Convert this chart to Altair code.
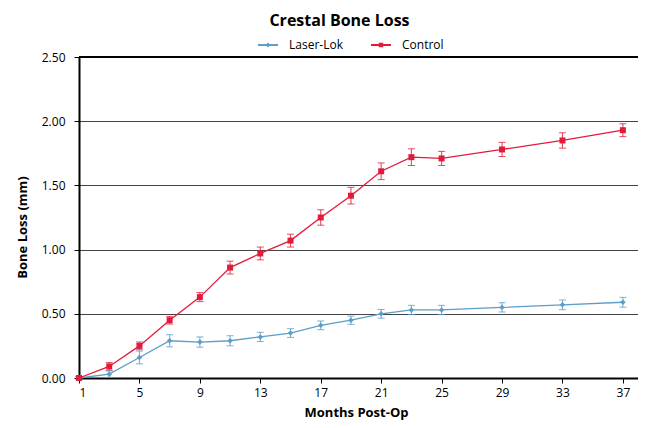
import altair as alt
import pandas as pd

months = [1, 3, 5, 7, 9, 11, 13, 15, 17, 19, 21, 23, 25, 29, 33, 37]
control = [0.00, 0.09, 0.25, 0.45, 0.63, 0.86, 0.97, 1.07, 1.25, 1.42, 1.61, 1.72, 1.71, 1.78, 1.85, 1.93]
control_err = [0.01, 0.03, 0.03, 0.03, 0.035, 0.05, 0.05, 0.05, 0.06, 0.065, 0.065, 0.065, 0.055, 0.055, 0.06, 0.05]
laser = [0.00, 0.03, 0.16, 0.29, 0.28, 0.29, 0.32, 0.35, 0.41, 0.45, 0.50, 0.53, 0.53, 0.55, 0.57, 0.59]
laser_err = [0.01, 0.025, 0.05, 0.047, 0.04, 0.039, 0.036, 0.034, 0.034, 0.032, 0.034, 0.036, 0.036, 0.036, 0.038, 0.038]
series_names = ["Laser-Lok", "Control"]
x_ticks = [1, 5, 9, 13, 17, 21, 25, 29, 33, 37]
y_ticks = [0, 0.5, 1.0, 1.5, 2.0, 2.5]

BLUE = "#5B9EC6"
RED = "#E31B3B"
FONT = "Open Sans"

rows = []
for m, v, e in zip(months, laser, laser_err):
    rows.append({"month": m, "loss": v, "lo": v - e, "hi": v + e, "series": "Laser-Lok"})
for m, v, e in zip(months, control, control_err):
    rows.append({"month": m, "loss": v, "lo": v - e, "hi": v + e, "series": "Control"})
df = pd.DataFrame(rows)

xs = alt.Scale(domain=[1, 38.0], nice=False, zero=False)
ys = alt.Scale(domain=[0, 2.5], nice=False)
cs = alt.Scale(domain=series_names, range=[BLUE, RED])

x_enc = alt.X("month:Q", scale=xs,
              axis=alt.Axis(values=x_ticks, grid=False, title="Months Post-Op",
                            titleX=277, titleY=28, titleBaseline="top",
                            labelPadding=4, format="d"))
y_enc = alt.Y("loss:Q", scale=ys,
              axis=alt.Axis(values=y_ticks, format=".2f", grid=True, gridColor="#444444",
                            gridWidth=1.2, title="Bone Loss (mm)", labelPadding=9,
                            titleX=-50, titleY=170))

legend_shapes = [
    "M-1,-0.1H1V0.1H-1Z M0,-0.24L0.24,0L0,0.24L-0.24,0Z",
    "M-1,-0.1H1V0.1H-1Z M-0.22,-0.22H0.22V0.22H-0.22Z",
]
leg = alt.Legend(orient="none", legendX=179, legendY=-22,
                 direction="horizontal", title=None,
                 symbolSize=400, labelFontSize=12, labelFont=FONT,
                 labelOffset=11, columnPadding=28, padding=0,
                 labelColor="black", symbolStrokeWidth=0, symbolOpacity=1)
col = alt.Color("series:N", scale=cs, legend=leg)
shp = alt.Shape("series:N", scale=alt.Scale(domain=series_names, range=legend_shapes), legend=leg)

base = alt.Chart(df)

top_rule = alt.Chart(pd.DataFrame({"t": [2.5]})).mark_rule(color="black", strokeWidth=2.2).encode(
    y=alt.Y("t:Q", scale=ys)
)

err = base.mark_rule(strokeWidth=1.1, opacity=0.8).encode(
    x=x_enc, y=alt.Y("lo:Q", scale=ys), y2="hi:Q", color=col
)
cap_lo = base.mark_tick(orient="horizontal", size=7, thickness=1, opacity=0.8).encode(
    x=x_enc, y=alt.Y("lo:Q", scale=ys), color=col
)
cap_hi = base.mark_tick(orient="horizontal", size=7, thickness=1, opacity=0.8).encode(
    x=x_enc, y=alt.Y("hi:Q", scale=ys), color=col
)

lines = base.mark_line(strokeWidth=1.3).encode(
    x=x_enc, y=y_enc, color=col, detail="series:N"
)

pts_ctrl = base.transform_filter(alt.datum.series == "Control").mark_point(
    shape="square", filled=True, size=36, opacity=1
).encode(x=x_enc, y=y_enc, color=col)

pts_laser = base.transform_filter(alt.datum.series == "Laser-Lok").mark_point(
    shape="diamond", filled=True, size=30, opacity=1
).encode(x=x_enc, y=y_enc, color=col)

legend_layer = base.mark_point(filled=True, size=0, opacity=1).encode(
    x=x_enc, y=y_enc, color=col, shape=shp
)

chart = alt.layer(
    top_rule, err, cap_lo, cap_hi, lines, pts_laser, pts_ctrl, legend_layer, data=df
).properties(
    width=559, height=321,
    padding={"left": 71, "top": 49, "right": 0, "bottom": 42},
    autosize=alt.AutoSizeParams(type="none"),
    title=alt.TitleParams("Crestal Bone Loss", fontSize=16, font=FONT, fontWeight="bold",
                          anchor="middle", frame="group", dx=-19, offset=6, color="black"),
).configure_view(
    stroke="transparent"
).configure_axis(
    domainColor="black", domainWidth=2, tickColor="black", tickWidth=1, tickSize=5,
    labelFont=FONT, labelFontSize=12, labelColor="black",
    titleFont=FONT, titleFontSize=13, titleFontWeight="bold", titleColor="black",
)

chart.save("out.html", embed_options={"renderer": "svg", "actions": False})
